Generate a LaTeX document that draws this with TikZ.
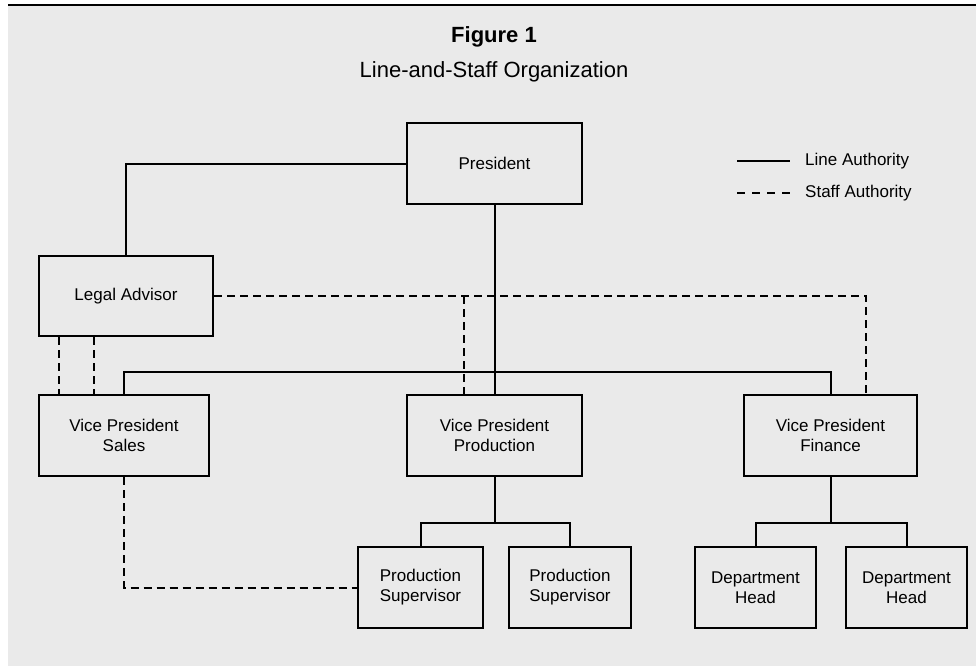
\documentclass[tikz,border=0pt]{standalone}
\usepackage{fontspec}
\setmainfont{Liberation Sans}
\usetikzlibrary{positioning,calc}
\definecolor{panelgrey}{HTML}{EAEAEA}
\tikzset{
  orgbox/.style={rectangle, draw=black, line width=2pt, minimum height=81pt,
                 align=center, inner sep=0pt, font=\fontsize{17}{20}\selectfont},
  legtext/.style={anchor=west, inner sep=0pt, font=\fontsize{17}{20}\selectfont},
  line/.style={draw, line width=2pt},
  staff/.style={draw, line width=2pt, dash pattern=on 8pt off 5pt}
}

\begin{document}
\begin{tikzpicture}[x=1pt,y=-1pt]
  \useasboundingbox (0,0) rectangle (976,666);

  % Draw grey panel and top rule.
  \fill[panelgrey] (8,6) rectangle (976,666);
  \draw[line width=2.5pt] (8,5) -- (976,5);

  % Title.
  \node[anchor=base, font=\fontsize{22}{26}\selectfont\bfseries] (title) at (494,43) {Figure 1};
  \node[anchor=base, font=\fontsize{22}{26}\selectfont] (subtitle) at (494,78) {Line-and-Staff Organization};

  % Legend.
  \coordinate (lineA) at (737,161);
  \coordinate (lineB) at (790,161);
  \coordinate (staffA) at (737,193);
  \coordinate (staffB) at (790,193);
  \draw[line] (lineA) -- (lineB);
  \draw[line, dash pattern=on 8pt off 7pt] (staffA) -- (staffB);
  \node[legtext] (linelab) at (805,161) {Line Authority};
  \node[legtext] (stafflab) at (805,193) {Staff Authority};

  % Boxes.
  \node[orgbox, minimum width=175pt] (pres) at (494.5,163.5) {President};
  \node[orgbox, minimum width=174pt, minimum height=80pt] (legal) at (126,296) {Legal Advisor};
  \node[orgbox, minimum width=170pt] (vps) at (124,435.5) {Vice President\\Sales};
  \node[orgbox, minimum width=175pt] (vpp) at (494.5,435.5) {Vice President\\Production};
  \node[orgbox, minimum width=173pt] (vpf) at (830.5,435.5) {Vice President\\Finance};
  \node[orgbox, minimum width=125pt] (ps1) at (420.5,587.5) {Production\\Supervisor};
  \node[orgbox, minimum width=122pt] (ps2) at (570,587.5) {Production\\Supervisor};
  \node[orgbox, minimum width=121pt] (dh1) at (755.5,587.5) {Department\\Head};
  \node[orgbox, minimum width=121pt] (dh2) at (906.5,587.5) {Department\\Head};

  % Line authority.
  \draw[line] (pres.west) -| (legal.north);
  \draw[line] (pres.south) -- (vpp.north);
  \coordinate (bus) at (0,372);
  \draw[line] (vps.north) -- (vps.north |- bus) -| (vpf.north);
  \coordinate (pbus) at (0,523);
  \draw[line] (vpp.south) -- (vpp.south |- pbus);
  \draw[line] (ps1.north) |- (pbus -| vpp.south) -| (ps2.north);
  \draw[line] (vpf.south) -- (vpf.south |- pbus);
  \draw[line] (dh1.north) |- (pbus -| vpf.south) -| (dh2.north);

  % Staff authority.
  \coordinate (fin) at ([xshift=-52pt]vpf.north east);
  \coordinate (prod) at ([xshift=-31pt]vpp.north);
  \draw[staff] (legal.east) -| (fin);
  \draw[staff] (prod |- legal.east) -- (prod);
  \draw[staff] ([xshift=21pt]legal.south west) -- ([xshift=21pt]vps.north west);
  \draw[staff] ([xshift=56pt]legal.south west) -- ([xshift=56pt]vps.north west);
  \draw[staff] (vps.south) |- (ps1.west);
\end{tikzpicture}
\end{document}
